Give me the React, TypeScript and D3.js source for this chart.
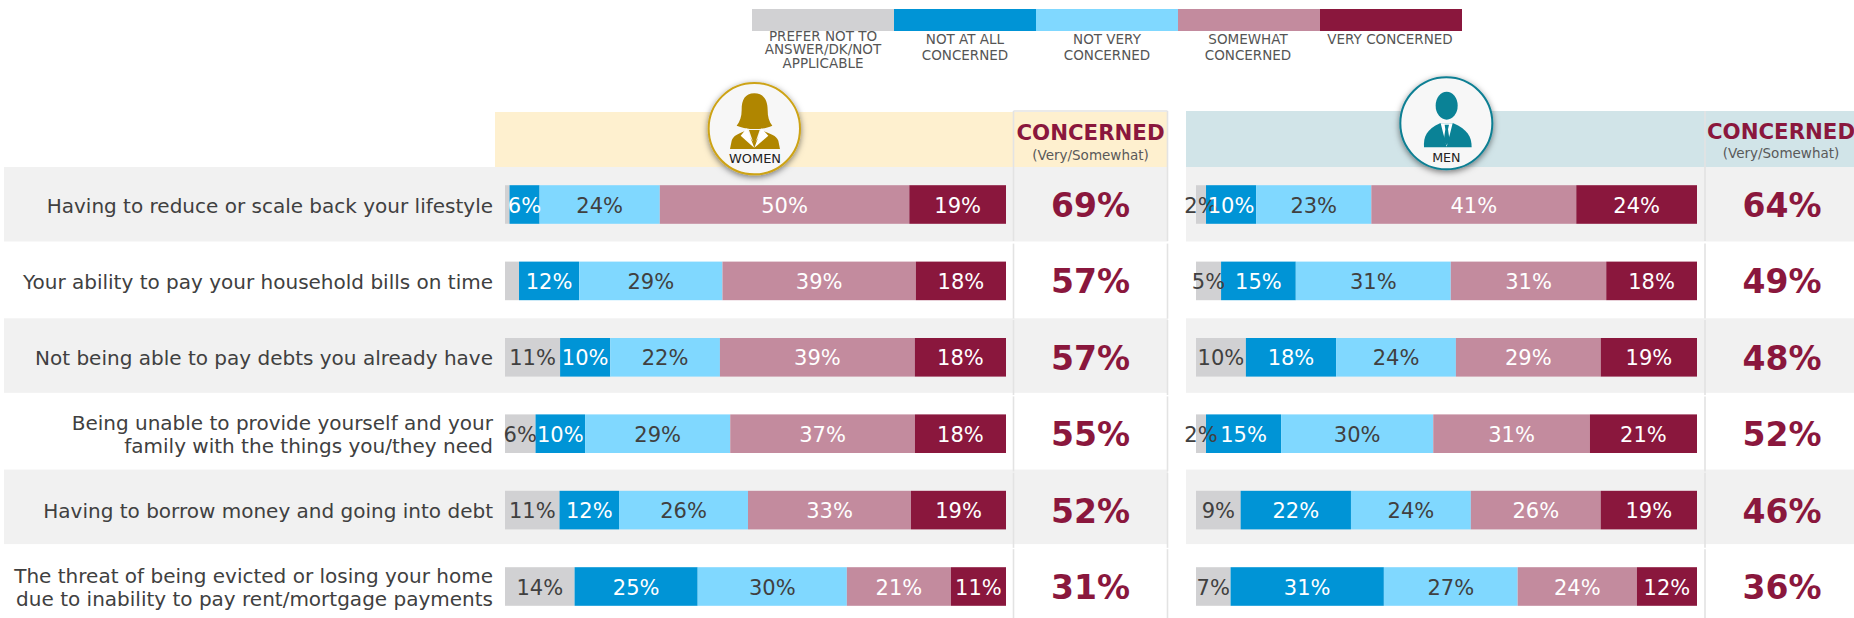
import React from "react";
import * as d3 from "d3";

const rowLabels: string[][] = [
  ["Having to reduce or scale back your lifestyle"],
  ["Your ability to pay your household bills on time"],
  ["Not being able to pay debts you already have"],
  ["Being unable to provide yourself and your", "family with the things you/they need"],
  ["Having to borrow money and going into debt"],
  ["The threat of being evicted or losing your home", "due to inability to pay rent/mortgage payments"],
];

const seriesKeys = ["prefer", "notAtAll", "notVery", "somewhat", "very"];
const legendLabels: string[][] = [
  ["PREFER NOT TO", "ANSWER/DK/NOT", "APPLICABLE"],
  ["NOT AT ALL", "CONCERNED"],
  ["NOT VERY", "CONCERNED"],
  ["SOMEWHAT", "CONCERNED"],
  ["VERY CONCERNED"],
];
const seriesColors = ["#d1d1d3", "#0094d6", "#80d8ff", "#c38b9e", "#8a173d"];
const seriesText = ["#404040", "#ffffff", "#404040", "#ffffff", "#ffffff"];

const womenPrefer = [0.9, 2.8, 11, 6.1, 10.9, 13.9];
const womenNotAtAll = [6, 12, 10, 9.9, 11.9, 24.6];
const womenNotVery = [24, 28.6, 21.9, 29, 25.8, 29.8];
const womenSomewhat = [49.8, 38.6, 38.9, 36.9, 32.6, 20.8];
const womenVery = [19.3, 18, 18.2, 18.2, 19, 11];
const womenPreferShown = [false, false, true, true, true, true];
const womenConcerned = [69, 57, 57, 55, 52, 31];

const menPrefer = [2, 5, 9.95, 2, 8.9, 6.9];
const menNotAtAll = [10, 14.9, 18, 15, 22, 30.6];
const menNotVery = [23, 30.9, 23.9, 30.4, 23.9, 26.7];
const menSomewhat = [40.9, 31, 28.9, 31.3, 25.9, 23.8];
const menVery = [24.1, 18.1, 19.2, 21.4, 19.2, 12];
const menPreferShown = [true, true, true, true, true, true];
const menConcerned = [64, 49, 48, 52, 46, 36];

const FONT = "'DejaVu Sans', Verdana, sans-serif";
const PURPLE = "#8a173d";
const LINE = "#e3e3e3";

const rowIdx = d3.range(6);
const barY = d3.scaleLinear().domain([0, 5]).range([185.2, 567.2]);
const BAR_H = 38.6;
const stripeY = d3.scaleLinear().domain([0, 4]).range([167, 469.6]);
const STRIPE_H = 74.5;

type Panel = {
  x0: number; x1: number; values: number[][]; shown: boolean[]; concerned: number[];
  colX: number; colCenter: number;
};

const stackRows = (arrs: number[][]) =>
  rowIdx.map((i) => {
    const o: Record<string, number> = {};
    seriesKeys.forEach((k, s) => (o[k] = arrs[s][i]));
    return o;
  });

function Bars({ p }: { p: Panel }) {
  const rows = stackRows(p.values);
  const stacked = d3.stack<Record<string, number>>().keys(seriesKeys)(rows);
  return (
    <g>
      {stacked.map((layer, s) =>
        layer.map((d, i) => {
          const total = d3.sum(seriesKeys, (k) => rows[i][k]);
          const x = d3.scaleLinear().domain([0, total]).range([p.x0, p.x1]);
          return (
            <rect key={`${s}-${i}`} x={x(d[0])} y={barY(i)} width={x(d[1]) - x(d[0])} height={BAR_H} fill={seriesColors[s]} />
          );
        })
      )}
      {stacked.map((layer, s) =>
        layer.map((d, i) => {
          if (s === 0 && !p.shown[i]) return null;
          const total = d3.sum(seriesKeys, (k) => rows[i][k]);
          const x = d3.scaleLinear().domain([0, total]).range([p.x0, p.x1]);
          return (
            <text key={`t${s}-${i}`} x={(x(d[0]) + x(d[1])) / 2} y={barY(i) + BAR_H / 2 + 1} textAnchor="middle"
              dominantBaseline="central" fontSize={21} fill={seriesText[s]}>
              {Math.round(d[1] - d[0])}%
            </text>
          );
        })
      )}
      {p.concerned.map((v, i) => (
        <text key={`c${i}`} x={p.colCenter} y={barY(i) + BAR_H / 2 + 1} textAnchor="middle" dominantBaseline="central"
          fontSize={33} fontWeight={700} fill={PURPLE}>
          {v}%
        </text>
      ))}
    </g>
  );
}

function ColumnLine({ x }: { x: number }) {
  const segs: [number, number][] = [[111, 241]];
  [1, 2, 3, 4, 5].forEach((i) => {
    const boundary = barY(i) - 20;
    segs.push([boundary + 2, i === 5 ? 618 : barY(i) + 57]);
  });
  return (
    <g>
      {segs.map(([a, b], i) => (
        <line key={i} x1={x} x2={x} y1={a} y2={b} stroke={LINE} strokeWidth={1.6} />
      ))}
    </g>
  );
}

function WomanIcon() {
  return (
    <g transform="translate(695,75) scale(0.3333)">
      <ellipse cx={178} cy={161} rx={137} ry={137} fill="#f7f7f7" stroke="#cda315" strokeWidth={6} filter="url(#badgeShadow)" />
      <path fill="#b08600" d="M178,55 C150,55 140,75 140,105 C140,125 135,140 125,152 C140,158 155,160 165,162 L192,162 C205,160 220,158 232,152 C222,140 218,125 218,105 C218,75 205,55 178,55Z" />
      <path fill="#b08600" d="M105,222 L110,197 C115,182 130,176 150,168 L178,205 L205,168 C225,176 245,182 250,197 L255,222Z" />
      <path fill="#ffffff" d="M155,160 L137,182 L168,210 L178,218 Z" />
      <path fill="#ffffff" d="M200,160 L220,182 L188,210 L178,218 Z" />
      <path fill="#b08600" d="M162,165 L194,165 L178,212Z" />
      <text x={180} y={252} textAnchor="middle" dominantBaseline="central" fontSize={39} fill="#222">WOMEN</text>
    </g>
  );
}

function ManIcon() {
  return (
    <g transform="translate(1390,70) scale(0.3333)">
      <ellipse cx={169} cy={160} rx={138} ry={138} fill="#f7f7f7" stroke="#0d7f93" strokeWidth={6} filter="url(#badgeShadow)" />
      <ellipse cx={170} cy={107} rx={33} ry={42} fill="#0a8296" />
      <path fill="#0a8296" d="M102,232 C100,200 110,178 150,160 L190,160 C232,178 245,200 245,232 Z" />
      <path fill="#ffffff" d="M152,160 L188,160 L170,230Z" />
      <path fill="#0a8296" d="M164,164 L177,164 L174,178 L179,212 L170,226 L161,212 L166,178Z" />
      <text x={169} y={262} textAnchor="middle" dominantBaseline="central" fontSize={38} fill="#222">MEN</text>
    </g>
  );
}

export default function App() {
  const legendX = d3.scaleLinear().domain([0, 5]).range([752, 1462]);
  const women: Panel = {
    x0: 505, x1: 1006, shown: womenPreferShown, concerned: womenConcerned, colX: 1014, colCenter: 1090.5,
    values: [womenPrefer, womenNotAtAll, womenNotVery, womenSomewhat, womenVery],
  };
  const men: Panel = {
    x0: 1196, x1: 1697, shown: menPreferShown, concerned: menConcerned, colX: 1705, colCenter: 1782,
    values: [menPrefer, menNotAtAll, menNotVery, menSomewhat, menVery],
  };
  return (
    <svg width={1854} height={618} viewBox="0 0 1854 618" fontFamily={FONT}
      style={{ position: "absolute", left: 0, top: 0, display: "block", background: "#fff" }}>
      <defs>
        <filter id="badgeShadow" x="-20%" y="-20%" width="140%" height="140%">
          <feDropShadow dx={0} dy={6} stdDeviation={9} floodColor="#000" floodOpacity={0.5} />
        </filter>
      </defs>

      {/* legend */}
      {seriesColors.map((c, i) => (
        <g key={c}>
          <rect x={legendX(i)} y={9} width={legendX(1) - legendX(0)} height={22} fill={c} />
          {legendLabels[i].map((t, j) => {
            const three = legendLabels[i].length === 3;
            const lx = legendX(i) + (legendX(1) - legendX(0)) / 2 - (i === 4 ? 1 : 0) - (i === 3 ? 1 : 0);
            return (
              <text key={t} x={lx} y={three ? 35.5 + j * 13.7 : 38.5 + j * 16} textAnchor="middle" dominantBaseline="central"
                fontSize={13.5} fill="#555">
                {t}
              </text>
            );
          })}
        </g>
      ))}

      {/* header bands */}
      <rect x={495} y={112} width={673} height={55} fill="#fef0cf" />
      <rect x={1186} y={111} width={668} height={56} fill="#d1e4e8" />

      {/* row stripes */}
      {[0, 2, 4].map((i) => (
        <g key={i}>
          <rect x={4} y={stripeY(i)} width={1164} height={STRIPE_H} fill="#f1f1f1" />
          <rect x={1186} y={stripeY(i)} width={668} height={STRIPE_H} fill="#f1f1f1" />
        </g>
      ))}

      {/* column rules */}
      <line x1={1013.5} x2={1167.5} y1={111} y2={111} stroke={LINE} strokeWidth={1.6} />
      <ColumnLine x={1013.5} />
      <ColumnLine x={1167.5} />
      <ColumnLine x={1705} />

      {/* column headers */}
      <text x={1090.5} y={132} textAnchor="middle" dominantBaseline="central" fontSize={21.3} fontWeight={700} fill={PURPLE}>CONCERNED</text>
      <text x={1090.5} y={155} textAnchor="middle" dominantBaseline="central" fontSize={13.5} fill="#595959">(Very/Somewhat)</text>
      <text x={1781} y={131} textAnchor="middle" dominantBaseline="central" fontSize={21.3} fontWeight={700} fill={PURPLE}>CONCERNED</text>
      <text x={1781} y={153} textAnchor="middle" dominantBaseline="central" fontSize={13.5} fill="#595959">(Very/Somewhat)</text>

      {/* row labels */}
      {rowLabels.map((lines, i) =>
        lines.map((t, j) => (
          <text key={t} x={493} y={barY(i) + BAR_H / 2 + 1 + (j - (lines.length - 1) / 2) * 23.5} textAnchor="end"
            dominantBaseline="central" fontSize={20} fill="#404040">
            {t}
          </text>
        ))
      )}

      <Bars p={women} />
      <Bars p={men} />

      <WomanIcon />
      <ManIcon />
    </svg>
  );
}
